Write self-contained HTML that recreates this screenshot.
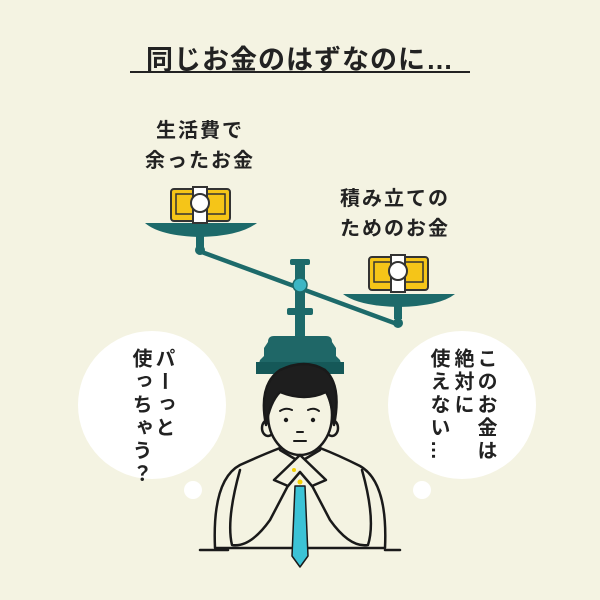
<!DOCTYPE html>
<html><head><meta charset="utf-8"><style>
body{margin:0;width:600px;height:600px;background:#f4f3e2;overflow:hidden;position:relative;font-family:"Liberation Sans","Noto Sans CJK JP",sans-serif;color:#222;font-weight:bold}
.t{position:absolute;white-space:nowrap}
.v{position:absolute;writing-mode:vertical-rl;font-size:20px;letter-spacing:3px;line-height:24px}
</style></head><body>
<svg width="600" height="600" style="position:absolute;left:0;top:0">
<line x1="130" y1="72" x2="470" y2="72" stroke="#222" stroke-width="2"/>
<circle cx="152" cy="405" r="74" fill="#fff"/>
<circle cx="462" cy="405" r="74" fill="#fff"/>
<circle cx="193" cy="490" r="9" fill="#fff"/>
<circle cx="422" cy="490" r="9" fill="#fff"/>
<g fill="#1d6a6a">
<rect x="295" y="262" width="10" height="80"/>
<rect x="290" y="259" width="20" height="6" rx="2"/>
<rect x="287" y="308" width="26" height="7" rx="2"/>
<path d="M268 342 Q268 336 274 336 L326 336 Q332 336 332 342 L336 348 L336 356 L340 360 L344 374 L256 374 L260 360 L264 356 L264 348 Z" fill="#1f6767"/>
<rect x="256" y="362" width="88" height="12" fill="#155858"/>
<path d="M200 249 L398 322 L396 326 L198 253 Z"/>
<circle cx="200" cy="250" r="5"/>
<circle cx="398" cy="323" r="5"/>
<rect x="196" y="233" width="8" height="14"/>
<rect x="394" y="303" width="8" height="16"/>
<path d="M145 223 L257 223 Q240 236 201 237 Q160 236 145 223 Z"/>
<path d="M343 294 L455 294 Q440 306 399 307 Q358 306 343 294 Z"/>
</g>
<circle cx="300" cy="285" r="7" fill="#3cb6c4" stroke="#1d6a6a" stroke-width="1.5"/>
<g stroke="#333" stroke-width="2">
<rect x="171" y="189" width="59" height="32" rx="3" fill="#f5c518"/>
<rect x="176" y="194" width="49" height="20" fill="none" stroke-width="1.5"/>
<rect x="193" y="187" width="14" height="36" fill="#fff"/>
<circle cx="200" cy="203" r="9" fill="#fff"/>
<rect x="369" y="257" width="59" height="33" rx="3" fill="#f5c518"/>
<rect x="374" y="262" width="49" height="20" fill="none" stroke-width="1.5"/>
<rect x="391" y="255" width="14" height="37" fill="#fff"/>
<circle cx="398" cy="271" r="9" fill="#fff"/>
</g>
<g stroke="#1a1a1a" stroke-width="2.5" fill="#f4f3e2" stroke-linecap="round" stroke-linejoin="round">
<path d="M215 548 Q212 480 240 465 Q262 455 280 448 L300 462 L320 448 Q338 455 360 466 Q388 482 385 548 Z"/>
<path d="M228 550 L200 550 M385 550 L400 550"/>
<path d="M240 470 Q226 520 232 545 Q250 548 270 520 L292 478"/>
<path d="M362 470 Q376 520 368 545 Q350 548 330 520 L308 478"/>
<path d="M280 440 L280 450 L300 462 L320 450 L320 440"/>
<ellipse cx="268" cy="428" rx="6" ry="8"/><ellipse cx="332" cy="428" rx="6" ry="8"/>
<ellipse cx="300" cy="415" rx="32" ry="40"/>
<path d="M266 425 Q258 385 280 370 Q305 358 325 370 Q342 385 334 425 Q332 402 326 392 Q305 402 280 392 Q270 402 266 425 Z" fill="#1e1e1e"/>
<path d="M280 411 Q286 407 292 410 M308 410 Q314 407 319 411" fill="none" stroke-width="2"/>
<circle cx="286" cy="420" r="2.2" fill="#1a1a1a" stroke="none"/>
<circle cx="313" cy="420" r="2.2" fill="#1a1a1a" stroke="none"/>
<path d="M297 432 L303 432 M294 441 L306 441" fill="none" stroke-width="2"/>
<path d="M292 556 L295 486 L305 486 L308 556 L300 567 Z" fill="#3cc3d6" stroke-width="1.5"/>
<path d="M274 480 L300 455 L326 480 L312 486 L300 472 L288 486 Z" fill="#f4f3e2"/>
<circle cx="294" cy="470" r="2" fill="#f5d000" stroke="none"/>
<circle cx="300" cy="482" r="2.5" fill="#f5d000" stroke="none"/>
</g>
</svg>
<div class="t" style="left:0;width:600px;text-align:center;top:38px;font-size:27px;letter-spacing:1px">同じお金のはずなのに…</div>
<div class="t" style="left:100px;width:200px;text-align:center;top:116px;font-size:20px;line-height:30px;letter-spacing:2px">生活費で<br>余ったお金</div>
<div class="t" style="left:295px;width:200px;text-align:center;top:184px;font-size:20px;line-height:30px;letter-spacing:2px">積み立ての<br>ためのお金</div>
<div class="v" style="left:128px;top:348px;height:140px">使っちゃう？</div>
<div class="v" style="left:151px;top:348px;height:140px">パーっと</div>
<div class="v" style="left:426px;top:348px;height:140px">使えない…</div>
<div class="v" style="left:450px;top:348px;height:140px">絶対に</div>
<div class="v" style="left:473px;top:348px;height:140px">このお金は</div>
</body></html>
